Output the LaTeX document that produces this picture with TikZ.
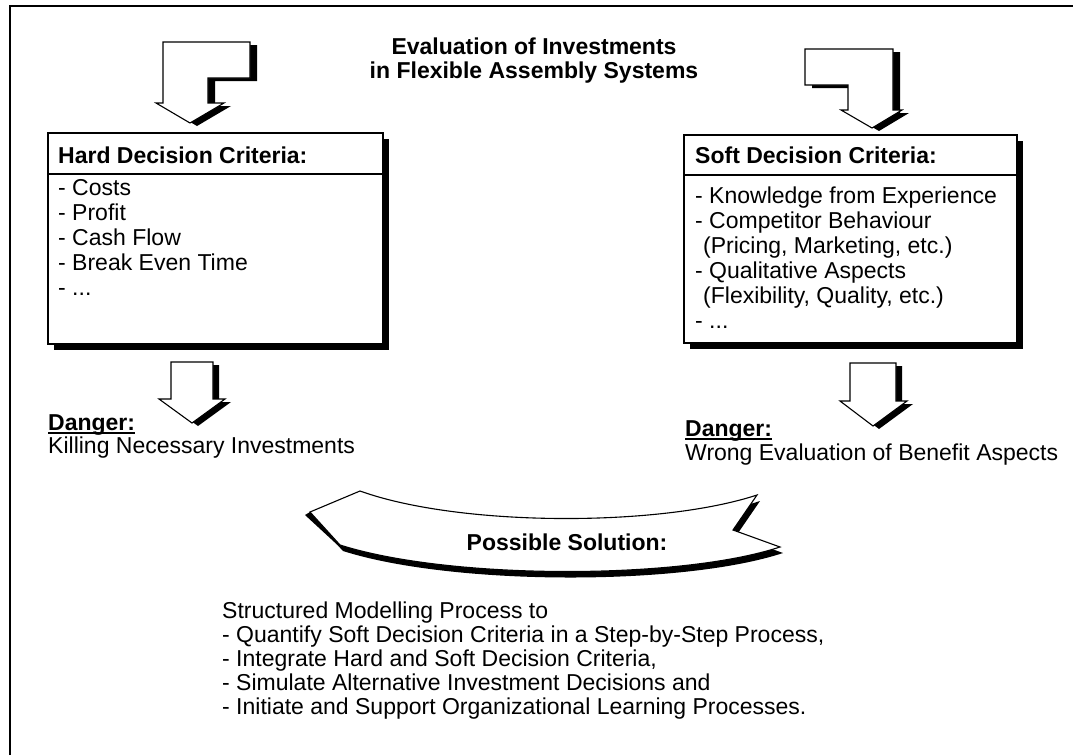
\documentclass[tikz,border=0pt]{standalone}
\usepackage{fontspec}
\setmainfont{Liberation Sans}
\begin{document}
\begin{tikzpicture}[x=1pt,y=-1pt,
  txt/.style={anchor=base west, inner sep=0pt, font=\fontsize{23}{25}\selectfont},
  btxt/.style={anchor=base west, inner sep=0pt, font=\fontsize{23}{25}\selectfont\bfseries},
  outline/.style={draw=black, line width=1.1pt, fill=white, line join=miter},
  shade/.style={fill=black, draw=none},
  rulebar/.style={line width=1.6pt}]
\useasboundingbox (0,0) rectangle (1073,755);
\fill[white] (0,0) rectangle (1073,755);
% outer frame
\draw[line width=2.4pt] (10,755) -- (10,6) -- (1073,6);

% title
\node[btxt, anchor=base] (t1) at (534,54) {Evaluation of Investments};
\node[btxt, anchor=base] (t2) at (534,78) {in Flexible Assembly Systems};

% top-left bent arrow
\def\pTL{(163,42) -- (250,42) -- (250,78) -- (208,78) -- (208,103) -- (224,103) -- (190,123) -- (156,103) -- (163,103) -- cycle}
\fill[shade, shift={(7,3)}] \pTL;
\draw[outline] \pTL;

% top-right bent arrow
\def\pTR{(805,49) -- (893,49) -- (893,110) -- (902,110) -- (872,128) -- (841,110) -- (848,110) -- (848,85) -- (805,85) -- cycle}
\fill[shade, shift={(7,3)}] \pTR;
\draw[outline] \pTR;

% left box
\fill[shade] (54,139) rectangle (389,350);
\draw[outline] (48,133) rectangle (383,344);
\draw[line width=1.1pt] (48,174) -- (383,174);
\node[btxt] (hh) at (58,163) {Hard Decision Criteria:};
\node[txt] (h1) at (58,195) {- Costs};
\node[txt] (h2) at (58,220) {- Profit};
\node[txt] (h3) at (58,245) {- Cash Flow};
\node[txt] (h4) at (58,270) {- Break Even Time};
\node[txt] (h5) at (58,295) {- ...};

% right box
\fill[shade] (690,141) rectangle (1023,349);
\draw[outline] (684,135) rectangle (1017,343);
\draw[line width=1.1pt] (684,175) -- (1017,175);
\node[btxt] (sh) at (695,163) {Soft Decision Criteria:};
\node[txt] (s1) at (695,203) {- Knowledge from Experience};
\node[txt] (s2) at (695,228) {- Competitor Behaviour};
\node[txt] (s3) at (703,253) {(Pricing, Marketing, etc.)};
\node[txt] (s4) at (695,278) {- Qualitative Aspects};
\node[txt] (s5) at (703,303) {(Flexibility, Quality, etc.)};
\node[txt] (s6) at (695,328) {- ...};

% down arrows
\def\pDL{(171,362) -- (213,362) -- (213,399) -- (225,399) -- (192,423) -- (159,399) -- (171,399) -- cycle}
\fill[shade, shift={(6,3)}] \pDL;
\draw[outline] \pDL;
\def\pDR{(850,363) -- (896,363) -- (896,401) -- (907,401) -- (873,426) -- (840,401) -- (850,401) -- cycle}
\fill[shade, shift={(6,3)}] \pDR;
\draw[outline] \pDR;

% dangers
\node[btxt] (dl) at (48,430) {Danger:};
\draw[rulebar] ([yshift=-3pt]dl.base west) -- ([yshift=-3pt]dl.base east);
\node[txt] (kl) at (48,453) {Killing Necessary Investments};
\node[btxt] (dr) at (685,436) {Danger:};
\draw[rulebar] ([yshift=-3pt]dr.base west) -- ([yshift=-3pt]dr.base east);
\node[txt] (wr) at (685,460) {Wrong Evaluation of Benefit Aspects};

% banner
\def\pBan{(310,512) -- (360,491) .. controls (460,527) and (660,527) .. (757,495) -- (733,530) -- (780,547) .. controls (680,580) and (450,580) .. (340,545) -- cycle}
\fill[shade, shift={(3,6)}] \pBan;
\fill[shade] (310,512) -- (340,545) -- (344,551) -- (305,515) -- cycle;
\draw[outline] \pBan;
\node[btxt, anchor=base] (ps) at (567,550) {Possible Solution:};

% solution text
\node[txt] (b0) at (222,618) {Structured Modelling Process to};
\node[txt] (b1) at (222,642) {- Quantify Soft Decision Criteria in a Step-by-Step Process,};
\node[txt] (b2) at (222,666) {- Integrate Hard and Soft Decision Criteria,};
\node[txt] (b3) at (222,690) {- Simulate Alternative Investment Decisions and};
\node[txt] (b4) at (222,714) {- Initiate and Support Organizational Learning Processes.};
\end{tikzpicture}
\end{document}
